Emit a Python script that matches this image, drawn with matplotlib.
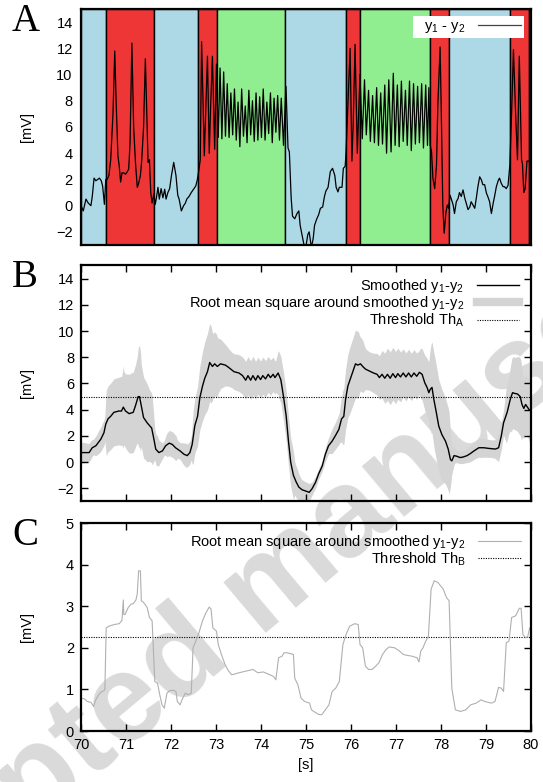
import numpy as np
import matplotlib
matplotlib.use('Agg')
import matplotlib.pyplot as plt
from matplotlib.lines import Line2D

plt.rcParams['font.family'] = ['Liberation Sans', 'DejaVu Sans']
plt.rcParams['mathtext.default'] = 'regular'
plt.rcParams['font.size'] = 10.5

# activity segments
seg_edges = [70.0, 70.56, 71.63, 72.61, 73.03, 74.53, 75.89, 76.19,
             77.75, 78.18, 79.54, 79.95, 80.0]
seg_state = ['rest', 'burst', 'rest', 'burst', 'osc', 'rest', 'burst',
             'osc', 'burst', 'rest', 'burst', 'end']
state_color = {'rest': '#add8e6', 'burst': '#ef3636',
               'osc': '#90ee90', 'end': '#66737f'}

# raw difference signal y1 - y2 [mV]
sig_t = [70.00, 70.05, 70.11, 70.16, 70.22, 70.25, 70.29, 70.33, 70.37, 70.41,
         70.45, 70.48, 70.52, 70.55,
         70.58, 70.62, 70.66, 70.71, 70.75, 70.78, 70.82, 70.85, 70.88, 70.91,
         70.95, 70.99, 71.03, 71.06, 71.09, 71.13, 71.17, 71.21, 71.25, 71.28,
         71.32, 71.35, 71.39, 71.43, 71.47, 71.49, 71.52, 71.55, 71.58, 71.62,
         71.65, 71.68, 71.71, 71.74, 71.78, 71.82, 71.86, 71.89, 71.93, 71.97,
         72.01, 72.06, 72.11, 72.15, 72.18, 72.23, 72.28, 72.32, 72.35, 72.40,
         72.45, 72.49, 72.55, 72.58, 72.61,
         72.65, 72.68, 72.74, 72.77, 72.81, 72.85, 72.88, 72.92, 72.97, 73.01,
         73.05, 73.09, 73.13, 73.17, 73.21, 73.25, 73.29, 73.33, 73.37, 73.41,
         73.45, 73.49, 73.53, 73.57, 73.61, 73.65, 73.69, 73.73, 73.77, 73.81,
         73.85, 73.89, 73.93, 73.97, 74.01, 74.05, 74.09, 74.13, 74.17, 74.21,
         74.25, 74.29, 74.33, 74.37, 74.41, 74.45, 74.50, 74.555,
         74.60, 74.63, 74.67, 74.70, 74.75, 74.80, 74.84, 74.87, 74.91, 74.95,
         74.99, 75.04, 75.07, 75.12, 75.16, 75.19, 75.24, 75.28, 75.32, 75.37,
         75.41, 75.44, 75.49, 75.54, 75.59, 75.64, 75.67, 75.71, 75.74, 75.80,
         75.83, 75.87, 75.89, 75.93, 75.98, 76.02, 76.05, 76.09, 76.14,
         76.20, 76.25, 76.30, 76.34, 76.39, 76.43, 76.48, 76.52, 76.57, 76.61,
         76.66, 76.70, 76.75, 76.79, 76.84, 76.89, 76.94, 76.98, 77.03, 77.07,
         77.12, 77.16, 77.21, 77.25, 77.30, 77.34, 77.39, 77.43, 77.48, 77.52,
         77.57, 77.61, 77.66, 77.70, 77.73,
         77.76, 77.79, 77.82, 77.86, 77.90, 77.93, 77.98, 78.01, 78.04, 78.07,
         78.11, 78.14, 78.17,
         78.20, 78.23, 78.27, 78.30, 78.34, 78.38, 78.41, 78.45, 78.49, 78.53,
         78.56, 78.60, 78.64, 78.67, 78.71, 78.75, 78.79, 78.82, 78.86, 78.90,
         78.93, 78.97, 79.01, 79.04, 79.08, 79.12, 79.16, 79.19, 79.23, 79.27,
         79.30, 79.34, 79.38, 79.41, 79.45, 79.49, 79.53,
         79.57, 79.61, 79.66, 79.70, 79.74, 79.79, 79.81, 79.84, 79.87, 79.91,
         79.95, 80.00]
sig_v = [0.0, -0.4, 0.5, 0.2, 0.0, 0.7, 2.1, 1.9, 2.0, 2.1,
         1.9, 1.5, 0.1, 2.0,
         2.0, 2.3, 3.5, 7.0, 11.8, 8.0, 3.8, 3.0, 1.8, 2.5,
         2.5, 2.4, 2.6, 2.8, 4.8, 12.4, 6.0, 3.3, 1.4, 1.7,
         2.3, 3.5, 6.0, 11.2, 6.0, 3.3, 3.5, 1.0, 0.2, 0.9,
         0.1, 0.7, 1.4, 0.5, 1.3, 0.6, 1.25, 0.5, 1.0, 1.3,
         2.3, 3.3, 2.3, 0.8, 0.5, -0.4, 0.0, 0.2, 0.5, 0.7,
         1.0, 1.2, 1.5, 1.9, 2.5,
         3.5, 12.5, 3.8, 7.0, 11.4, 4.0, 7.5, 11.4, 4.3, 10.8,
         5.2, 10.5, 5.1, 10.2, 5.3, 9.3, 5.2, 8.6, 5.4, 8.9,
         5.0, 7.9, 4.5, 8.9, 5.3, 7.6, 4.8, 8.8, 5.4, 8.0,
         4.9, 8.6, 5.0, 8.3, 5.2, 8.9, 5.0, 7.9, 5.5, 8.6,
         4.8, 8.2, 5.6, 8.4, 5.0, 8.2, 4.6, 9.1,
         4.4, 4.1, 0.6, -0.8, -1.0, -0.6, -0.4, -1.5, -2.2, -2.9,
         -3.3, -2.2, -2.0, -3.2, -2.5, -1.5, -1.0, -0.7, -0.2, -0.1,
         0.7, 1.1, 1.4, 2.6, 2.85, 2.3, 1.4, 1.05, 1.4, 1.4,
         2.85, 3.0, 4.1, 7.7, 12.0, 3.4, 6.4, 12.3, 4.0,
         10.0, 5.1, 9.6, 5.4, 8.8, 4.9, 8.4, 4.8, 9.0, 4.6,
         8.6, 4.7, 9.2, 4.0, 9.6, 4.1, 10.1, 4.6, 9.2, 4.5,
         9.5, 4.9, 8.8, 4.6, 9.5, 4.2, 9.3, 4.7, 9.1, 4.8,
         9.3, 4.4, 9.2, 4.6, 9.0,
         4.6, 4.1, 2.1, 1.3, 3.1, 7.7, 12.1, 6.4, 0.05, -2.1,
         -0.5, 0.05, -0.2,
         0.8, 0.5, 0.05, -0.6, 0.3, 0.55, 1.0, 0.7, 1.2, 0.55,
         0.2, -0.3, -0.1, 0.3, 0.05, -0.2, 0.7, 1.45, 2.2, 1.95,
         1.6, 1.6, 0.95, 0.7, 0.3, -0.6, 0.2, 0.7, 1.45, 1.9,
         2.1, 1.7, 1.45, 1.45, 1.3, 1.55, 3.1,
         7.2, 11.9, 6.8, 3.5, 11.4, 3.5, 3.2, 1.0, 1.3, 3.4,
         3.4, 3.3]

# smoothed y1 - y2 [mV]
sm_t = [70.00, 70.18, 70.25, 70.33, 70.44, 70.51, 70.55, 70.60, 70.66, 70.73,
        70.84, 70.90, 70.94, 70.99, 71.07, 71.16, 71.21, 71.27, 71.30, 71.34,
        71.39, 71.47, 71.57, 71.62, 71.66, 71.73, 71.81, 71.88, 71.96, 72.03,
        72.10, 72.20, 72.29, 72.36, 72.42, 72.47, 72.53, 72.59, 72.64, 72.70,
        72.75, 72.81, 72.86, 72.92, 72.97, 73.03, 73.10, 73.21, 73.29, 73.40,
        73.51, 73.59, 73.66, 73.71, 73.77, 73.82, 73.88, 73.93, 73.99, 74.04,
        74.10, 74.16, 74.21, 74.27, 74.31, 74.38, 74.44, 74.50, 74.56, 74.61,
        74.66, 74.72, 74.78, 74.84, 74.91, 74.99, 75.07, 75.13, 75.21, 75.28,
        75.36, 75.43, 75.50, 75.58, 75.65, 75.73, 75.79, 75.84, 75.88, 75.93,
        76.01, 76.10, 76.15, 76.21, 76.26, 76.32, 76.41, 76.50, 76.58, 76.63,
        76.69, 76.75, 76.81, 76.87, 76.93, 76.99, 77.04, 77.10, 77.16, 77.22,
        77.28, 77.34, 77.40, 77.46, 77.52, 77.58, 77.64, 77.69, 77.73, 77.76,
        77.80, 77.84, 77.89, 77.95, 78.02, 78.10, 78.16, 78.21, 78.24, 78.29,
        78.35, 78.43, 78.50, 78.58, 78.65, 78.73, 78.84, 78.95, 79.06, 79.21,
        79.28, 79.34, 79.39, 79.47, 79.54, 79.59, 79.63, 79.70, 79.76, 79.80,
        79.84, 79.88, 79.92, 79.96, 80.00]
sm_v = [0.73, 0.73, 1.1, 1.25, 1.75, 2.25, 2.9, 3.3, 3.5, 3.8,
        3.9, 3.9, 4.2, 3.9, 3.7, 3.8, 4.3, 5.0, 5.0, 4.3,
        3.4, 3.0, 2.6, 1.75, 1.0, 0.73, 0.86, 1.25, 1.45, 1.35,
        1.1, 0.86, 0.6, 0.5, 0.73, 1.35, 2.8, 3.5, 4.9, 5.8,
        6.4, 6.9, 7.6, 7.3, 7.5, 7.3, 7.5, 7.4, 7.2, 6.9,
        6.8, 6.6, 6.25, 6.6, 6.25, 6.6, 6.25, 6.6, 6.3, 6.6,
        6.35, 6.7, 6.45, 6.7, 6.45, 6.8, 6.3, 5.0, 3.5, 1.6,
        0.0, -1.0, -1.5, -1.9, -2.1, -2.2, -2.3, -2.05, -1.55, -0.9,
        -0.3, 0.6, 1.25, 1.6, 2.0, 2.5, 3.3, 3.5, 4.8, 5.8,
        6.6, 7.5, 7.4, 7.5, 7.3, 7.1, 6.95, 6.8, 6.7, 6.45,
        6.7, 6.4, 6.7, 6.4, 6.75, 6.45, 6.75, 6.5, 6.8, 6.5,
        6.8, 6.5, 6.8, 6.55, 6.85, 6.7, 6.05, 5.7, 5.3, 5.55,
        5.7, 4.8, 3.9, 2.75, 2.1, 1.6, 1.0, 0.2, 0.1, 0.5,
        0.45, 0.35, 0.4, 0.5, 0.65, 0.85, 1.1, 1.1, 1.05, 1.0,
        1.1, 2.0, 3.0, 3.8, 4.8, 5.3, 5.25, 5.2, 5.0, 4.4,
        4.1, 4.4, 4.2, 4.0, 3.9]

# root mean square around the smoothed signal [mV]
rms_t = [70.00, 70.08, 70.14, 70.22, 70.28, 70.32, 70.39, 70.45, 70.51, 70.53,
         70.56, 70.62, 70.74, 70.85, 70.91, 70.94, 70.95, 70.98, 71.05, 71.11,
         71.16, 71.22, 71.25, 71.28, 71.32, 71.34, 71.39, 71.47, 71.52, 71.58,
         71.64, 71.70, 71.75, 71.80, 71.85, 71.91, 71.97, 72.05, 72.11, 72.14,
         72.20, 72.26, 72.32, 72.39, 72.45, 72.49, 72.55, 72.62, 72.70, 72.78,
         72.85, 72.89, 72.93, 72.97, 73.01, 73.05, 73.12, 73.20, 73.28, 73.35,
         73.51, 73.66, 73.82, 73.93, 74.05, 74.16, 74.28, 74.33, 74.39, 74.47,
         74.51, 74.58, 74.72, 74.75, 74.82, 74.89, 74.97, 75.08, 75.12, 75.20,
         75.28, 75.35, 75.43, 75.51, 75.58, 75.66, 75.74, 75.82, 75.89, 75.97,
         76.08, 76.16, 76.20, 76.26, 76.32, 76.39, 76.47, 76.55, 76.62, 76.70,
         76.78, 76.85, 76.97, 77.08, 77.16, 77.24, 77.35, 77.47, 77.51, 77.55,
         77.60, 77.66, 77.72, 77.78, 77.85, 77.93, 78.05, 78.12, 78.18, 78.24,
         78.32, 78.43, 78.55, 78.66, 78.78, 78.89, 78.97, 79.12, 79.20, 79.28,
         79.34, 79.39, 79.45, 79.51, 79.57, 79.66, 79.74, 79.78, 79.82, 79.88,
         79.93, 79.97, 80.00]
rms_v = [0.79, 0.77, 0.71, 0.69, 0.59, 0.73, 0.87, 0.94, 0.97, 1.0,
         2.48, 2.52, 2.56, 2.58, 2.66, 3.15, 2.8, 2.8, 2.97, 3.05,
         3.06, 3.15, 3.3, 3.85, 3.85, 3.13, 3.09, 2.97, 2.73, 2.65,
         1.19, 1.15, 0.87, 0.63, 0.55, 0.91, 0.97, 0.98, 0.95, 0.71,
         0.63, 0.79, 0.91, 0.87, 0.91, 2.0, 2.16, 2.36, 2.65, 2.85,
         2.98, 2.93, 2.48, 2.44, 2.4, 2.08, 1.84, 1.6, 1.44, 1.35,
         1.4, 1.44, 1.48, 1.4, 1.42, 1.37, 1.31, 1.23, 1.76, 1.8,
         1.88, 1.88, 1.84, 1.27, 1.11, 0.79, 0.71, 0.67, 0.51, 0.45,
         0.4, 0.39, 0.51, 0.63, 0.95, 1.03, 1.19, 2.08, 2.32, 2.52,
         2.58, 2.56, 2.08, 2.0, 1.56, 1.48, 1.48, 1.56, 1.64, 1.84,
         1.96, 2.02, 2.0, 1.92, 1.84, 1.82, 1.8, 1.76, 1.66, 1.92,
         2.0, 2.16, 2.28, 3.41, 3.61, 3.57, 3.41, 3.21, 3.13, 1.03,
         0.51, 0.47, 0.51, 0.63, 0.67, 0.75, 0.71, 0.67, 0.71, 1.05,
         1.03, 0.95, 2.12, 2.16, 2.73, 2.77, 2.95, 2.95, 2.32, 2.24,
         2.28, 2.48, 2.48]

th_a = 5.0
th_b = 2.25

fig = plt.figure(figsize=(5.43, 7.82), dpi=100)
ax_a = fig.add_axes([0.1492, 0.6867, 0.8287, 0.3018])
ax_b = fig.add_axes([0.1492, 0.3587, 0.8287, 0.3018])
ax_c = fig.add_axes([0.1492, 0.0652, 0.8287, 0.2660])

fig.text(0.495, 0.247, 'Accepted manuscript', rotation=40, fontsize=90,
         fontweight='bold', color='#dadada', ha='center', va='center',
         zorder=-5)

# panel A
for i, st in enumerate(seg_state):
    ax_a.axvspan(seg_edges[i], seg_edges[i + 1], color=state_color[st],
                 ec='black', lw=1.0, zorder=0)
ax_a.plot(sig_t, sig_v, color='black', lw=0.9, label='y$_1$ - y$_2$', zorder=2)
ax_a.set_ylim(-3, 15)
ax_a.set_yticks(np.arange(-2, 15, 2))
ax_a.tick_params(length=0, labelbottom=False, pad=6)
leg = ax_a.legend(loc='upper right', markerfirst=False, frameon=True,
                  fancybox=False, framealpha=1, facecolor='white',
                  edgecolor='none', handlelength=2.9, borderpad=0.2,
                  borderaxespad=0.5, handletextpad=0.9)
leg.get_frame().set_linewidth(0)
leg.get_texts()[0].set_text('  y$_1$ - y$_2$')
for l in leg.get_lines():
    l.set_color('#444444')

# panel B
grid_t = np.union1d(sm_t, rms_t)
s_g = np.interp(grid_t, sm_t, sm_v)
r_g = np.interp(grid_t, rms_t, rms_v)
ax_b.set_facecolor('none')
ax_b.fill_between(grid_t, s_g - r_g, s_g + r_g, color='#d4d4d4', lw=0, zorder=1)
ax_b.plot(sm_t, sm_v, color='black', lw=1.0, zorder=3)
ax_b.axhline(th_a, color='black', lw=0.8, ls=(0, (1, 1.2)), zorder=2)
ax_b.set_ylim(-3, 15)
ax_b.set_yticks(np.arange(-2, 15, 2))
ax_b.tick_params(labelbottom=False)
hb = [Line2D([], [], color='black', lw=1.0),
      Line2D([], [], color='#d4d4d4', lw=6),
      Line2D([], [], color='black', lw=0.8, ls=(0, (1, 1.2)))]
ax_b.legend(hb, ['Smoothed y$_1$-y$_2$',
                 'Root mean square around smoothed y$_1$-y$_2$',
                 'Threshold Th$_A$'],
            loc='upper right', markerfirst=False, frameon=False,
            handlelength=2.9, handletextpad=0.9, labelspacing=-0.05,
            borderaxespad=0.4)

# panel C
ax_c.set_facecolor('none')
ax_c.plot(rms_t, rms_v, color='#b0b0b0', lw=0.8, zorder=3)
ax_c.axhline(th_b, color='black', lw=0.8, ls=(0, (1, 1.2)), zorder=2)
ax_c.set_ylim(0, 5)
ax_c.set_yticks(np.arange(0, 6, 1))
hc = [Line2D([], [], color='#b0b0b0', lw=0.8),
      Line2D([], [], color='black', lw=0.8, ls=(0, (1, 1.2)))]
ax_c.legend(hc, ['Root mean square around smoothed y$_1$-y$_2$',
                 'Threshold Th$_B$'],
            loc='upper right', markerfirst=False, frameon=False,
            handlelength=2.9, handletextpad=0.9, labelspacing=-0.05,
            borderaxespad=0.3)
ax_c.set_xlabel('[s]', labelpad=4)

for ax in (ax_a, ax_b, ax_c):
    ax.set_xlim(70, 80)
    ax.set_xticks(np.arange(70, 81, 1))
    ax.yaxis.set_label_coords(-0.105, 0.5)
    ax.set_ylabel('[mV]')
    for sp in ax.spines.values():
        sp.set_linewidth(1.6)
        sp.set_zorder(5)
for ax in (ax_b, ax_c):
    ax.tick_params(direction='in', length=5, width=1, top=True, right=True,
                   pad=5)

for ax, letter in zip((ax_a, ax_b, ax_c), 'ABC'):
    pos = ax.get_position()
    fig.text(0.022, pos.y1 + 0.008, letter, family='Liberation Serif',
             fontsize=28, ha='left', va='top')

fig.savefig('out.png', dpi=100)
